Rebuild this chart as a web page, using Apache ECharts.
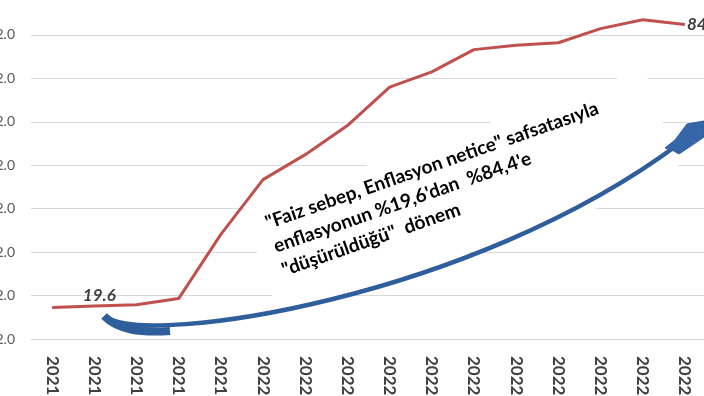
<!DOCTYPE html>
<html><head><meta charset="utf-8">
<script src="https://cdn.jsdelivr.net/npm/echarts@6/dist/echarts.min.js"></script>
<style>html,body{margin:0;padding:0;background:#fff}#c{width:704px;height:396px}</style>
</head><body><div id="c"></div>
<script>
var categories = ["2021-08","2021-09","2021-10","2021-11","2021-12","2022-01","2022-02","2022-03","2022-04","2022-05","2022-06","2022-07","2022-08","2022-09","2022-10","2022-11"];
var inflation = [19.25,19.58,19.89,21.31,36.08,48.69,54.44,61.14,69.97,73.50,78.62,79.60,80.21,83.45,85.51,84.39];
var labelled = {1: "19.6", 15: "84.4"};
var yMin = 12, yMax = 92, yStep = 10;
var noteText = '"Faiz sebep, Enflasyon netice" safsatasıyla\nenflasyonun %19,6\'dan  %84,4\'e\n"düşürüldüğü"  dönem';

var chart = echarts.init(document.getElementById('c'), null, {renderer:'canvas'});
var seriesData = inflation.map(function(v,i){
  var d = {value:v};
  if (labelled[i]) {
    d.label = {show:true, formatter: labelled[i], position: i===15 ? 'right' : 'top',
      distance: i===15 ? 2 : 4, offset: i===15 ? [0,0] : [5,2],
      fontFamily:'Lato', fontWeight:'bold', fontStyle:'italic', fontSize:17, color:'#404040'};
  }
  return d;
});
var th = 19.2*Math.PI/180;
var tail = [108,318], c1=[150,345], c2=[470,300], end=[680,143];
chart.setOption({
  animation:false,
  grid:{left:31, right:-2, top:-8.5, bottom:57, containLabel:false, outerBoundsMode:'none'},
  xAxis:{type:'category', data:categories, boundaryGap:true, z:0,
    axisLine:{lineStyle:{color:'#D9D9D9', width:1}}, axisTick:{show:false},
    axisLabel:{rotate:-90, margin:17, fontFamily:'Lato', fontWeight:'bold', fontSize:17, color:'#404040', interval:0}},
  yAxis:{type:'value', min:yMin, max:yMax, interval:yStep, z:0,
    axisLine:{show:false}, axisTick:{show:false},
    splitLine:{lineStyle:{color:'#D9D9D9', width:1}},
    axisLabel:{margin:16, fontFamily:'Lato', fontSize:14, color:'#595959', formatter:function(v){return v.toFixed(1);}}},
  series:[{type:'line', data:seriesData, symbol:'circle', symbolSize:0.1, showAllSymbol:true,
    itemStyle:{color:'rgba(0,0,0,0)'}, lineStyle:{color:'#C0504D', width:3}, z:5}],
  graphic:[
    {type:'group', x:242, y:209, rotation:th, children:[
      {type:'rect', z:1, shape:{x:0,y:0,width:426,height:116}, style:{fill:'#fff'}},
      {type:'text', z:11, x:18, y:9, style:{text:noteText, font:'bold 19px Lato', fill:'#000', lineHeight:25, textVerticalAlign:'top'}}
    ]},
    {type:'bezierCurve', z:20, shape:{x1:tail[0],y1:tail[1],cpx1:c1[0],cpy1:c1[1],cpx2:c2[0],cpy2:c2[1],x2:end[0],y2:end[1]},
      style:{stroke:'#2F5E9C', lineWidth:4.5, fill:null}},
    {type:'bezierCurve', z:20, shape:{x1:104,y1:316,cpx1:118,cpy1:330,cpx2:140,cpy2:333,x2:170,y2:331},
      style:{stroke:'#2F5E9C', lineWidth:8, fill:null}},
    {type:'polygon', z:21, shape:{points:[[687,124],[704,121],[704,137],[688,148],[679,154],[672,150],[665,148],[675,140]]},
      style:{fill:'#3566A8', stroke:'#2F5E9C', lineWidth:1}}
  ]
});
</script></body></html>
